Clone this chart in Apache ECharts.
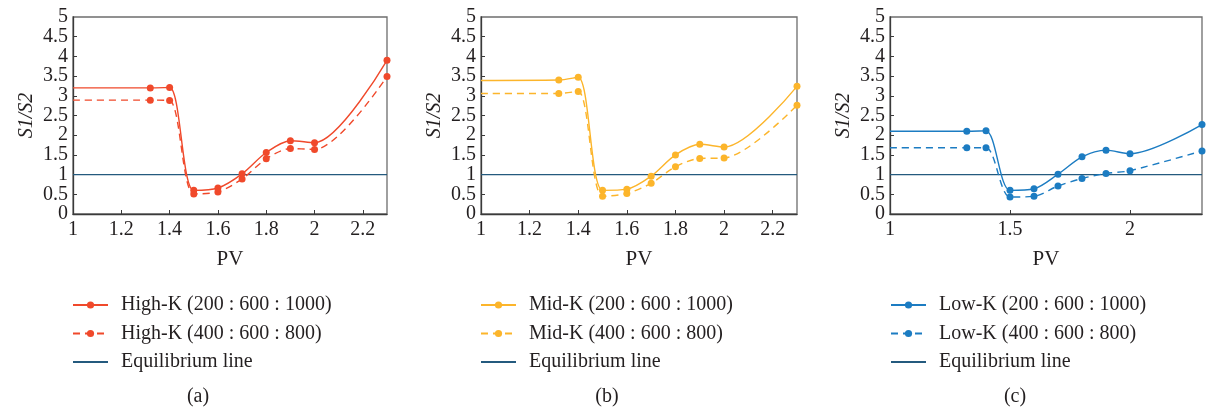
<!DOCTYPE html>
<html>
<head>
<meta charset="utf-8">
<script src="https://cdn.jsdelivr.net/npm/echarts@6/dist/echarts.min.js"></script>
<style>
  html, body { margin: 0; padding: 0; background: #ffffff; }
  #chart { width: 1207px; height: 408px; }
</style>
</head>
<body>
<div id="chart"></div>
<script>
// Pore-volume sweep: S1/S2 ratio for three permeability groups and two injection ratios
const pv = [1.0, 1.32, 1.4, 1.5, 1.6, 1.7, 1.8, 1.9, 2.0, 2.3];

const highK_200_600_1000 = [3.20, 3.20, 3.21, 0.60, 0.66, 1.02, 1.56, 1.86, 1.81, 3.90];
const highK_400_600_800  = [2.89, 2.89, 2.88, 0.51, 0.56, 0.89, 1.40, 1.66, 1.64, 3.49];

const midK_200_600_1000  = [3.39, 3.40, 3.47, 0.60, 0.63, 0.96, 1.50, 1.77, 1.70, 3.24];
const midK_400_600_800   = [3.06, 3.06, 3.11, 0.45, 0.52, 0.78, 1.20, 1.41, 1.42, 2.76];

const lowK_200_600_1000  = [2.10, 2.10, 2.11, 0.60, 0.64, 1.01, 1.45, 1.62, 1.53, 2.27];
const lowK_400_600_800   = [1.68, 1.68, 1.68, 0.43, 0.45, 0.71, 0.90, 1.03, 1.10, 1.60];

const equilibrium = [1, 1];
const equilibriumPV = [1.0, 2.3];

const panelNames = ['(a)', '(b)', '(c)'];
const xIntervals = [0.2, 0.2, 0.5];
// y tick labels: whole numbers and halves are laid out on two stacked axes so
// the tightly packed labels are all kept
const yTicksWhole = [0, 1, 2, 3, 4, 5];
const yTicksHalf = [0.5, 1.5, 2.5, 3.5, 4.5];

const FONT = 'Liberation Serif';
const TEXT = '#231f20';
const AXIS = '#3a3a3a';
const EQ_COLOR = '#245a7e';

const panels = [
  { color: '#f0492b', solid: 'High-K (200 : 600 : 1000)', dashed: 'High-K (400 : 600 : 800)', a: highK_200_600_1000, b: highK_400_600_800 },
  { color: '#fcb52b', solid: 'Mid-K (200 : 600 : 1000)',  dashed: 'Mid-K (400 : 600 : 800)',  a: midK_200_600_1000,  b: midK_400_600_800 },
  { color: '#1c7cc2', solid: 'Low-K (200 : 600 : 1000)',  dashed: 'Low-K (400 : 600 : 800)',  a: lowK_200_600_1000,  b: lowK_400_600_800 }
];

const gridLayout = [
  { left: 73,  width: 314 },
  { left: 481, width: 316 },
  { left: 890, width: 312 }
];
const legendLeft = [67, 475, 885];
const captionCenter = [193, 602, 1010];

// the first sample (PV = 1) only anchors the flat start, it carries no marker
function toData(xs, ys) {
  return xs.map((x, i) => i === 0 ? { value: [x, ys[i]], symbol: 'none' } : [x, ys[i]]);
}

const labelStyle = { fontFamily: FONT, fontSize: 20, color: TEXT, margin: 5 };

const grids = [], xAxes = [], yAxes = [], series = [], legends = [], titles = [];

panels.forEach((p, i) => {
  grids.push({
    left: gridLayout[i].left, width: gridLayout[i].width, top: 17, height: 197,
    show: true, borderColor: '#6d6d6d', borderWidth: 1.3, backgroundColor: 'transparent'
  });
  xAxes.push({
    type: 'value', gridIndex: i, min: 1, max: 2.3, interval: xIntervals[i],
    name: 'PV', nameLocation: 'middle', nameGap: 35,
    nameTextStyle: { fontFamily: FONT, fontSize: 21, color: TEXT },
    axisLine: { lineStyle: { color: AXIS, width: 1.3 } },
    axisTick: { inside: true, length: 4, lineStyle: { color: AXIS } },
    splitLine: { show: false },
    axisLabel: Object.assign({}, labelStyle, {
      margin: 6, showMinLabel: true, showMaxLabel: false,
      formatter: v => String(Math.round(v * 10) / 10)
    })
  });
  // whole-number labels, axis line and name
  yAxes.push({
    type: 'value', gridIndex: i, min: 0, max: 5, interval: 1,
    name: 'S1/S2', nameLocation: 'middle', nameGap: 36,
    nameTextStyle: { fontFamily: FONT, fontSize: 20, fontStyle: 'italic', color: TEXT },
    axisLine: { lineStyle: { color: AXIS, width: 1.3 } },
    axisTick: { show: false },
    splitLine: { show: false },
    axisLabel: Object.assign({}, labelStyle, {
      showMinLabel: true, showMaxLabel: true,
      formatter: v => yTicksWhole.includes(v) ? String(v) : ''
    })
  });
  // half-step labels and all inward ticks
  yAxes.push({
    type: 'value', gridIndex: i, min: 0, max: 5, interval: 0.5, position: 'left',
    axisLine: { show: false },
    axisTick: { inside: true, length: 4, lineStyle: { color: AXIS } },
    splitLine: { show: false },
    axisLabel: Object.assign({}, labelStyle, {
      showMinLabel: false, showMaxLabel: false,
      formatter: v => yTicksHalf.includes(v) ? String(v) : ''
    })
  });
  series.push({
    name: p.solid, type: 'line', xAxisIndex: i, yAxisIndex: 2 * i,
    data: toData(pv, p.a), smooth: 0.3,
    symbol: 'circle', symbolSize: 7, color: p.color,
    lineStyle: { width: 1.4, color: p.color }, z: 3
  });
  series.push({
    name: p.dashed, type: 'line', xAxisIndex: i, yAxisIndex: 2 * i,
    data: toData(pv, p.b), smooth: 0.3,
    symbol: 'circle', symbolSize: 7, color: p.color,
    lineStyle: { width: 1.4, color: p.color, type: [7, 5] }, z: 3
  });
  series.push({
    name: 'Equilibrium line', type: 'line', xAxisIndex: i, yAxisIndex: 2 * i,
    data: equilibriumPV.map((x, k) => [x, equilibrium[k]]),
    symbol: 'none', color: EQ_COLOR,
    lineStyle: { width: 1.3, color: EQ_COLOR }, z: 2, silent: true
  });
  legends.push({
    orient: 'vertical', left: legendLeft[i], top: 290,
    itemWidth: 35, itemHeight: 9, itemGap: 8.5,
    data: [
      { name: p.solid, itemStyle: { color: p.color } },
      { name: p.dashed, itemStyle: { color: p.color } },
      { name: 'Equilibrium line', itemStyle: { color: EQ_COLOR, opacity: 0 }, lineStyle: { color: EQ_COLOR, type: 'solid' } }
    ],
    selectedMode: false,
    textStyle: { fontFamily: FONT, fontSize: 20, color: TEXT, lineHeight: 20, padding: [0, 0, 0, 8] }
  });
  titles.push({
    text: panelNames[i], left: captionCenter[i], top: 382, textAlign: 'center',
    textStyle: { fontFamily: FONT, fontSize: 20, fontWeight: 'normal', color: TEXT }
  });
});

const chart = echarts.init(document.getElementById('chart'), null, { renderer: 'canvas' });
chart.setOption({
  animation: false,
  backgroundColor: '#ffffff',
  title: titles,
  grid: grids,
  xAxis: xAxes,
  yAxis: yAxes,
  legend: legends,
  series: series
});
</script>
</body>
</html>
